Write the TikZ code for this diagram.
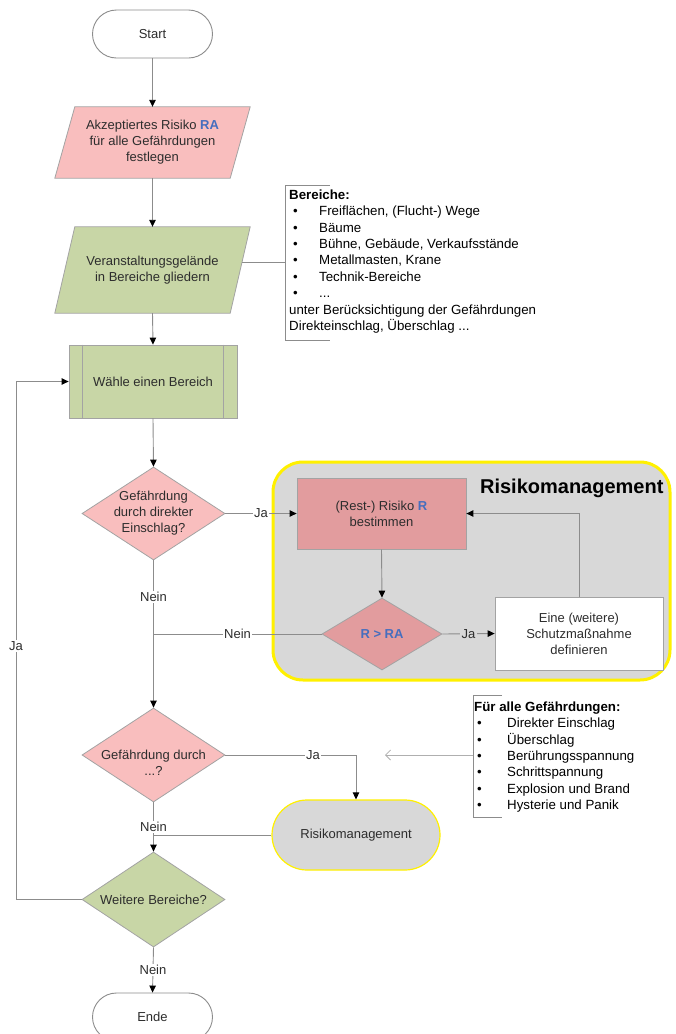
\documentclass[tikz,border=0pt]{standalone}
\usepackage{fontspec}
\setmainfont{Liberation Sans}
\usetikzlibrary{shapes.geometric,arrows.meta,backgrounds}
\definecolor{pinkL}{RGB}{249,190,190}
\definecolor{pinkD}{RGB}{226,156,158}
\definecolor{greenL}{RGB}{200,214,166}
\definecolor{grayF}{RGB}{216,216,216}
\definecolor{yel}{RGB}{255,240,0}
\definecolor{lineC}{RGB}{140,140,140}
\definecolor{blueT}{RGB}{70,110,190}
\definecolor{txt}{RGB}{45,45,45}
\newcommand\annbulA{\hspace*{4pt}\makebox[26pt][l]{\textbullet}}
\newcommand\annbulB{\hspace*{3pt}\makebox[30pt][l]{\textbullet}}
\tikzset{
  ln/.style={draw=lineC, line width=0.9pt},
  arr/.style={ln, -{Triangle[length=7pt,width=6.5pt,color=black]}},
  lbl/.style={fill=white, inner sep=1.5pt, text=txt},
  lblg/.style={fill=grayF, inner sep=1.5pt, text=txt},
  term/.style={draw=lineC, fill=white, rounded corners=24pt, minimum width=120pt, minimum height=48pt, line width=0.9pt},
  para/.style={minimum width=175pt, align=center, inner sep=0pt},
  dia/.style={diamond, draw=lineC!80, line width=0.8pt, minimum width=143pt, minimum height=93pt, inner sep=0pt},
  boxst/.style={draw=lineC!80, line width=0.8pt, align=center},
  brk/.style={draw=lineC, line width=0.8pt},
  anntext/.style={anchor=north west, align=left, inner sep=0pt, font=\fontsize{13.3}{16.4}\selectfont, text=black},
}
\begin{document}
\begin{tikzpicture}[x=1pt,y=-1pt, font=\fontsize{13}{16}\selectfont, text=txt]
\useasboundingbox (0,0) rectangle (676,1034);

% group background
\node[draw=yel, line width=3pt, fill=grayF, rounded corners=30pt, minimum width=397pt, minimum height=218pt] (grp) at (471.5,571) {};
\node[font=\bfseries\fontsize{20}{24}\selectfont, anchor=east, text=black] (ttl) at (667,488) {Risikomanagement};

% main column
\node[term] (start) at (152.5,34) {Start};
\node[para, minimum height=71pt] (ra) at (152.5,142.5) {Akzeptiertes Risiko \textcolor{blueT}{\textbf{RA}}\\für alle Gefährdungen\\festlegen};
\node[para, minimum height=86pt] (gel) at (152.5,270) {Veranstaltungsgelände\\in Bereiche gliedern};
\begin{scope}[on background layer]
  \filldraw[fill=pinkL, draw=lineC!80, line width=0.8pt] ([xshift=-10pt]ra.south west) -- ([xshift=-10pt]ra.south east) -- ([xshift=10pt]ra.north east) -- ([xshift=10pt]ra.north west) -- cycle;
  \filldraw[fill=greenL, draw=lineC!80, line width=0.8pt] ([xshift=-10pt]gel.south west) -- ([xshift=-10pt]gel.south east) -- ([xshift=10pt]gel.north east) -- ([xshift=10pt]gel.north west) -- cycle;
\end{scope}

\node[boxst, fill=greenL, minimum width=168pt, minimum height=73pt] (wa) at (153,381.5) {Wähle einen Bereich};
\draw[draw=lineC!80, line width=0.8pt] ([xshift=14pt]wa.north west) -- ([xshift=14pt]wa.south west);
\draw[draw=lineC!80, line width=0.8pt] ([xshift=-14pt]wa.north east) -- ([xshift=-14pt]wa.south east);

\node[dia, fill=pinkL] (d1) at (153.5,513.5) {};
\node[align=center] (d1t) at (d1) {Gefährdung\\durch direkter\\Einschlag?};
\node[dia, fill=pinkL, minimum height=94pt] (d2) at (153.5,755) {};
\node[align=center] (d2t) at (153.5,763) {Gefährdung durch\\...?};
\node[dia, fill=greenL, minimum height=95pt] (d3) at (153.5,899.5) {};
\node (d3t) at (d3) {Weitere Bereiche?};
\node[term] (ende) at (152.5,1017) {Ende};

% risk management group content
\node[boxst, fill=pinkD, minimum width=169pt, minimum height=71pt] (rb) at (381.5,513.5) {(Rest-) Risiko \textcolor{blueT}{\textbf{R}}\\bestimmen};
\node[dia, fill=pinkD, minimum width=120pt, minimum height=72pt] (rr) at (382,634) {};
\node[font=\bfseries\fontsize{13}{16}\selectfont, text=blueT] (rrt) at (rr) {R > RA};
\node[boxst, fill=white, minimum width=168pt, minimum height=73pt] (wb) at (579,633.5) {Eine (weitere)\\Schutzmaßnahme\\definieren};

% risk management terminal
\node[draw=yel, line width=1.2pt, fill=grayF, rounded corners=35pt, minimum width=168pt, minimum height=70pt] (rm) at (356,835) {Risikomanagement};

% annotations
\coordinate (b1) at (285,262);
\draw[brk] (330,185) -- (285,185) -- (285,340) -- (330,340);
\node[anntext] (ann1) at (289,189.5) {\textbf{Bereiche:}\\
\annbulA Freiflächen, (Flucht-) Wege\\
\annbulA Bäume\\
\annbulA Bühne, Gebäude, Verkaufsstände\\
\annbulA Metallmasten, Krane\\
\annbulA Technik-Bereiche\\
\annbulA ...\\
unter Berücksichtigung der Gefährdungen\\
Direkteinschlag, Überschlag ...};
\draw[ln] ([xshift=2pt]gel.east |- b1) -- (b1);

\coordinate (b2) at (473,755);
\coordinate (a2tip) at (385,755);
\draw[brk] (502,695) -- (473,695) -- (473,817) -- (502,817);
\node[anntext] (ann2) at (474,701.5) {\textbf{Für alle Gefährdungen:}\\
\annbulB Direkter Einschlag\\
\annbulB Überschlag\\
\annbulB Berührungsspannung\\
\annbulB Schrittspannung\\
\annbulB Explosion und Brand\\
\annbulB Hysterie und Panik};
\draw[draw=lineC!70, line width=0.8pt, -{Straight Barb[length=5pt,width=10pt]}] (b2) -- (a2tip);

% connectors
\draw[arr] (start.south) -- (ra.north);
\draw[arr] (ra.south) -- (gel.north);
\draw[arr] (gel.south) -- (wa.north);
\draw[arr] (wa.south) -- (d1.north);
\draw[arr] (d1.east) -- node[lbl]{Ja} (rb.west);
\draw[arr] (d1.south) -- node[lbl,pos=0.25]{Nein} (d2.north);
\draw[ln] (rr.west) -- node[lbl]{Nein} (rr.west -| d1.south);
\draw[arr] (rb.south) -- (rr.north);
\draw[arr] (rr.east) -- node[lblg]{Ja} (wb.west);
\draw[arr] (wb.north) |- (rb.east);
\draw[arr] (d2.east) -- node[lbl,pos=0.67]{Ja} (rm.north |- d2.east) -- (rm.north);
\draw[arr] (d2.south) -- node[lbl]{Nein} (d3.north);
\draw[ln] (rm.west) -- (rm.west -| d3.north);
\draw[arr] (d3.south) -- node[lbl]{Nein} (ende.north);
\coordinate (lp) at (16,899.5);
\draw[arr] (d3.west) -- (lp) -- node[lbl,pos=0.49]{Ja} (lp |- wa.west) -- (wa.west);
\end{tikzpicture}
\end{document}
